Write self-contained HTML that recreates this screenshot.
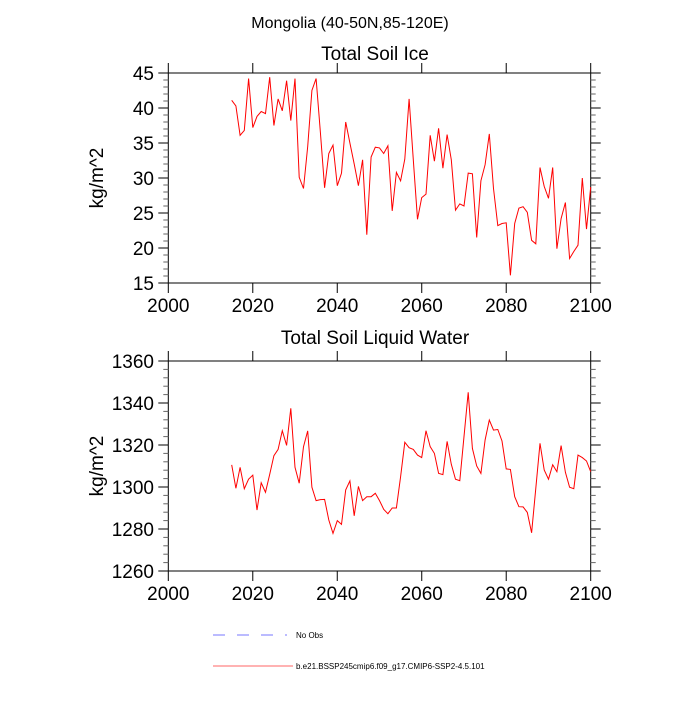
<!DOCTYPE html>
<html><head><meta charset="utf-8"><style>
body{margin:0;background:#fff;}
svg text{font-family:"Liberation Sans",sans-serif;fill:#000;}
</style></head><body>
<svg id="c" width="700" height="700" xmlns="http://www.w3.org/2000/svg">
<text x="350" y="28" font-size="16" text-anchor="middle">Mongolia (40-50N,85-120E)</text>
<g id="p1"></g>
<g id="p2"></g>
<g>
<line x1="213" y1="635" x2="287" y2="635" stroke="#7777ff" stroke-width="1" stroke-dasharray="12,12"/>
<text x="296" y="638" font-size="8">No Obs</text>
<line x1="213" y1="666" x2="293" y2="666" stroke="#ff6666" stroke-width="1"/>
<text x="296" y="669" font-size="8">b.e21.BSSP245cmip6.f09_g17.CMIP6-SSP2-4.5.101</text>
</g>
</svg>
<script>
const years=[];for(let y=2015;y<=2100;y++)years.push(y);
const iceValues=[41.1,40.3,36.1,36.8,44.2,37.2,38.8,39.5,39.2,44.4,37.5,41.3,39.6,43.9,38.2,44.2,30.1,28.5,34.5,42.5,44.2,36.5,28.6,33.5,34.7,28.9,30.7,38.0,35.0,32.0,28.9,32.6,21.9,33.0,34.4,34.3,33.5,34.6,25.3,30.8,29.6,32.7,41.3,32.6,24.1,27.2,27.7,36.1,32.4,37.1,31.4,36.2,32.6,25.4,26.3,26.0,30.7,30.6,21.5,29.6,31.9,36.3,28.5,23.2,23.5,23.6,16.1,23.5,25.7,25.9,25.1,21.1,20.6,31.5,28.8,27.1,31.5,19.9,24.2,26.5,18.5,19.5,20.4,30.0,22.7,28.7];
const liquidValues=[1310.5,1299.4,1309.4,1299.2,1303.7,1305.6,1289.0,1302.0,1297.5,1306.0,1314.9,1317.9,1326.8,1319.8,1337.5,1309.4,1301.8,1319.2,1326.7,1299.9,1293.5,1294.0,1294.1,1284.3,1277.9,1284.0,1282.2,1298.6,1302.9,1286.3,1300.3,1293.5,1295.4,1295.4,1297.0,1293.5,1289.4,1287.3,1290.0,1290.0,1304.9,1321.3,1318.7,1317.9,1315.2,1314.0,1326.8,1319.2,1316.0,1306.5,1305.9,1321.7,1310.8,1303.7,1303.0,1324.0,1345.1,1318.4,1310.0,1306.5,1322.4,1331.9,1327.1,1327.4,1321.9,1308.6,1308.4,1295.4,1290.6,1290.5,1287.9,1278.2,1299.4,1320.8,1308.1,1303.7,1310.6,1307.3,1319.7,1307.0,1299.9,1299.2,1315.2,1314.0,1312.4,1307.3];
const xTicks=[2000,2020,2040,2060,2080,2100];
const iceTicks=[15,20,25,30,35,40,45];
const liquidTicks=[1260,1280,1300,1320,1340,1360];
const NS="http://www.w3.org/2000/svg";
function mk(p,t,a){const e=document.createElementNS(NS,t);for(const k in a)e.setAttribute(k,a[k]);p.appendChild(e);return e;}
function panel(g,top,bot,ymin,ymax,yt,minorStep,vals,title,titleY){
 const L=168.3,R=590.7;
 const X=v=>L+(v-2000)/100*(R-L);
 const Y=v=>bot-(v-ymin)/(ymax-ymin)*(bot-top);
 const t=mk(g,'text',{x:375,y:titleY,'font-size':19,'text-anchor':'middle'});t.textContent=title;
 
 
 const f=mk(g,'rect',{x:L,y:top,width:R-L,height:bot-top,fill:'none',stroke:'#000','stroke-width':1});
 
 
 for(const v of xTicks){
  mk(g,'line',{x1:X(v),x2:X(v),y1:bot,y2:bot+10,stroke:'#000'});
  mk(g,'line',{x1:X(v),x2:X(v),y1:top,y2:top-10,stroke:'#000'});
  const l=mk(g,'text',{x:X(v),y:bot+29,'font-size':19,'text-anchor':'middle'});l.textContent=v;
  
  
 }
 for(let v=ymin;v<=ymax+1e-9;v+=minorStep){
  mk(g,'line',{x1:L-5,x2:L,y1:Y(v),y2:Y(v),stroke:'#666'});
  mk(g,'line',{x1:R,x2:R+5,y1:Y(v),y2:Y(v),stroke:'#666'});
 }
 for(const v of yt){
  mk(g,'line',{x1:L-10,x2:L,y1:Y(v),y2:Y(v),stroke:'#000'});
  mk(g,'line',{x1:R,x2:R+10,y1:Y(v),y2:Y(v),stroke:'#000'});
  const l=mk(g,'text',{x:154,y:Y(v)+7,'font-size':19,'text-anchor':'end'});l.textContent=v;
  
  
 }
 const cy=(top+bot)/2;
 const yl=mk(g,'text',{x:103,y:cy,'font-size':19,'text-anchor':'middle',transform:`rotate(-90 103 ${cy})`});yl.textContent='kg/m^2';
 
 
 const pts=years.map((y,i)=>X(y).toFixed(1)+','+Y(vals[i]).toFixed(1)).join(' ');
 const pl=mk(g,'polyline',{points:pts,fill:'none',stroke:'#ff0000','stroke-width':1});
 
 
}
panel(document.getElementById('p1'),73,283,15,45,iceTicks,1,iceValues,'Total Soil Ice',60);
panel(document.getElementById('p2'),361,571,1260,1360,liquidTicks,4,liquidValues,'Total Soil Liquid Water',344);
</script>
</body></html>
